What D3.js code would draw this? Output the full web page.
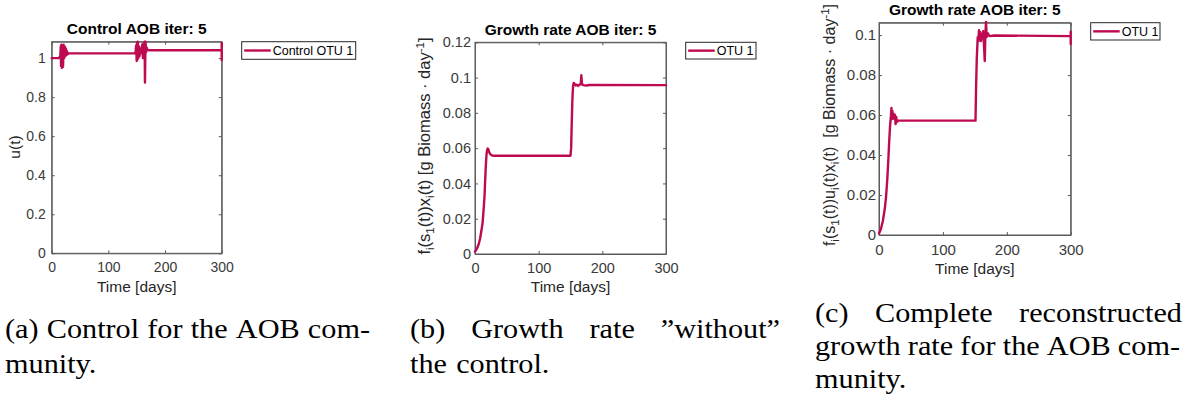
<!DOCTYPE html>
<html>
<head>
<meta charset="utf-8">
<script src="https://cdn.jsdelivr.net/npm/d3@7"></script>
<style>
  body { margin: 0; background: #fff; }
  svg { display: block; }
  .ylab { white-space: pre; }
</style>
</head>
<body>
<svg id="fig" width="1194" height="401"></svg>
<script>
// ---- data -------------------------------------------------------------
// (a) control signal u(t) for OTU 1
const controlTime = [0, 12, 14, 15, 16, 16.5, 17, 18, 19, 20, 21, 22, 23, 24, 25, 26, 27, 28, 30,
  147, 148, 149, 150, 150.5, 151, 152, 153, 154, 155, 156, 157, 158, 160, 161, 162, 163, 164, 164.6, 165.5, 166.5, 167.5, 169, 172, 300, 300, 300, 300];
const controlU = [1.0, 1.0, 1.004, 1.0, 1.06, 0.96, 1.068, 0.95, 1.065, 0.955, 1.068, 1.0, 1.06, 1.01, 1.05, 1.015, 1.035, 1.02, 1.024,
  1.024, 1.03, 1.065, 0.985, 1.08, 0.99, 1.084, 1.0, 1.06, 1.01, 1.05, 1.025, 1.04, 1.07, 1.0, 1.075, 1.02, 1.084, 0.875, 1.084, 1.03, 1.055, 1.042, 1.04, 1.04, 1.077, 0.99, 1.04];

// (b) growth rate without the control
const growthTime = [0, 3, 6, 8, 10, 12, 13.5, 15, 16, 17, 18, 19, 20, 21, 22, 24, 27, 30,
  150, 151, 152, 153, 154, 155, 156.5, 158, 160, 162, 164, 166, 167, 168, 170, 175, 180, 300];
const growthRate = [0.0013, 0.003, 0.0058, 0.0088, 0.013, 0.018, 0.025, 0.033, 0.042, 0.05, 0.056, 0.059, 0.0598, 0.0594, 0.058, 0.0565, 0.0558, 0.0557,
  0.0557, 0.06, 0.075, 0.088, 0.095, 0.097, 0.0965, 0.0955, 0.096, 0.0953, 0.096, 0.096, 0.1013, 0.0965, 0.0957, 0.0955, 0.0958, 0.0957];

// (c) complete reconstructed growth rate
const recTime = [0, 3, 6, 9, 11, 13, 14.6, 16, 17.2, 18.5, 19.5, 20.2, 21, 22, 23, 24, 25, 26, 27, 28, 30,
  151, 152, 153, 154.5, 155.5, 156.5, 157.5, 158.5, 159.5, 161, 162, 163, 164, 165.5, 166.5, 167.5, 168.5, 170, 173, 180, 300, 300, 300, 300];
const recRate = [0.0008, 0.003, 0.007, 0.013, 0.019, 0.028, 0.0375, 0.047, 0.054, 0.059, 0.0635, 0.058, 0.062, 0.0585, 0.0605, 0.058, 0.06, 0.0555, 0.059, 0.0565, 0.0572,
  0.0572, 0.075, 0.088, 0.099, 0.097, 0.1025, 0.098, 0.1015, 0.097, 0.1005, 0.0985, 0.102, 0.097, 0.087, 0.1005, 0.1066, 0.099, 0.101, 0.0995, 0.0998, 0.0995, 0.1017, 0.0955, 0.0995];

// ticks
const xTicks = [0, 100, 200, 300];
const xTickLabels = ["0", "100", "200", "300"];
const yTicksA = [0, 0.2, 0.4, 0.6, 0.8, 1];
const yTickLabelsA = ["0", "0.2", "0.4", "0.6", "0.8", "1"];
const yTicksB = [0, 0.02, 0.04, 0.06, 0.08, 0.1, 0.12];
const yTickLabelsB = ["0", "0.02", "0.04", "0.06", "0.08", "0.1", "0.12"];
const yTicksC = [0, 0.02, 0.04, 0.06, 0.08, 0.1];
const yTickLabelsC = ["0", "0.02", "0.04", "0.06", "0.08", "0.1"];

// ---- drawing ----------------------------------------------------------
const svg = d3.select("#fig");
const LINE = "#be0a50";
const AXIS = "#5a5a5a";
const TICKTXT = "#3a3a3a";
const SANS = "'Liberation Sans', Arial, sans-serif";
const SERIF = "'Liberation Serif', 'Times New Roman', serif";

function drawPanel(p) {
  const g = svg.append("g");
  const x = d3.scaleLinear().domain([0, 300]).range([p.left, p.right]);
  const y = d3.scaleLinear().domain([0, p.ymax]).range([p.bottom, p.top]);
  const fmtX = (d, i) => xTickLabels[i];
  const fmtY = (d, i) => p.yLabels[i];

  const styleAxis = sel => {
    sel.select(".domain").attr("stroke", AXIS).attr("stroke-width", 1);
    sel.selectAll(".tick line").attr("stroke", AXIS).attr("stroke-width", 1);
    sel.selectAll(".tick text").attr("fill", TICKTXT)
      .style("font-family", SANS).style("font-size", p.tickFont + "px");
  };

  g.append("g").attr("transform", `translate(0,${p.bottom})`)
    .call(d3.axisBottom(x).tickValues(xTicks).tickFormat(fmtX).tickSizeInner(-3).tickSizeOuter(0).tickPadding(p.xPad))
    .call(styleAxis);
  g.append("g").attr("transform", `translate(0,${p.top})`)
    .call(d3.axisTop(x).tickValues(xTicks).tickFormat("").tickSizeInner(-3).tickSizeOuter(0))
    .call(styleAxis);
  g.append("g").attr("transform", `translate(${p.left},0)`)
    .call(d3.axisLeft(y).tickValues(p.yTicks).tickFormat(fmtY).tickSizeInner(-3).tickSizeOuter(0).tickPadding(p.yPad))
    .call(styleAxis);
  g.append("g").attr("transform", `translate(${p.right},0)`)
    .call(d3.axisRight(y).tickValues(p.yTicks).tickFormat("").tickSizeInner(-3).tickSizeOuter(0))
    .call(styleAxis);
  // close the box at the top / right ends
  g.append("rect").attr("x", p.left).attr("y", p.top)
    .attr("width", p.right - p.left).attr("height", p.bottom - p.top)
    .attr("fill", "none").attr("stroke", AXIS).attr("stroke-width", 1);

  // data line
  const line = d3.line().x(d => x(d[0])).y(d => y(d[1]));
  g.append("path").datum(d3.zip(p.t, p.v))
    .attr("d", line).attr("fill", "none").attr("stroke", LINE)
    .attr("stroke-width", 2.4).attr("stroke-linejoin", "round").attr("stroke-linecap", "round");

  // title
  g.append("text").attr("x", (p.left + p.right) / 2).attr("y", p.titleY)
    .attr("text-anchor", "middle").style("font-family", SANS).style("font-weight", "bold")
    .style("font-size", "15.5px").attr("fill", "#000").text(p.title);

  // x label
  g.append("text").attr("x", (p.left + p.right) / 2).attr("y", p.xLabelY)
    .attr("text-anchor", "middle").style("font-family", SANS).style("font-size", "15.5px")
    .attr("fill", "#262626").text("Time [days]");

  // y label (rotated, with sub/superscripts)
  const yl = g.append("text").attr("class", "ylab")
    .attr("transform", `translate(${p.yLabelX},${p.yLabelY}) rotate(-90)`)
    .attr("text-anchor", "middle").style("font-family", SANS).style("font-size", p.yLabelFont + "px")
    .attr("fill", "#262626");
  let shift = 0;
  p.yLabelParts.forEach(([txt, kind]) => {
    const target = kind === "sub" ? 4 : kind === "sup" ? -6 : 0;
    const ts = yl.append("tspan").attr("dy", target - shift).text(txt);
    if (kind) ts.style("font-size", "11.5px");
    shift = target;
  });

  // legend
  const lg = g.append("g");
  lg.append("rect").attr("x", p.leg.x).attr("y", p.leg.y).attr("width", p.leg.w).attr("height", p.leg.h)
    .attr("fill", "#fff").attr("stroke", "#262626").attr("stroke-width", 1);
  const ly = p.leg.y + p.leg.h / 2;
  lg.append("line").attr("x1", p.leg.x + 2.5).attr("x2", p.leg.x + 29).attr("y1", ly).attr("y2", ly)
    .attr("stroke", LINE).attr("stroke-width", 2.4);
  lg.append("text").attr("x", p.leg.x + 31).attr("y", ly + 4.5)
    .style("font-family", SANS).style("font-size", "12.5px").attr("fill", "#000").text(p.legend);
}

drawPanel({
  left: 51.7, right: 221.7, top: 41.7, bottom: 253.3, ymax: 1.084,
  yTicks: yTicksA, yLabels: yTickLabelsA, tickFont: 14, xPad: 9, yPad: 6,
  t: controlTime, v: controlU,
  title: "Control AOB iter: 5", titleY: 34,
  xLabelY: 292, yLabelX: 20, yLabelY: 147, yLabelFont: 15.5,
  yLabelParts: [["u(t)"]],
  leg: { x: 241.7, y: 41.7, w: 114, h: 17.6 }, legend: "Control OTU 1"
});

drawPanel({
  left: 475, right: 666, top: 42.3, bottom: 254, ymax: 0.12,
  yTicks: yTicksB, yLabels: yTickLabelsB, tickFont: 14.5, xPad: 9, yPad: 4,
  t: growthTime, v: growthRate,
  title: "Growth rate AOB iter: 5", titleY: 34.5,
  xLabelY: 292, yLabelX: 430, yLabelY: 146, yLabelFont: 16.5,
  yLabelParts: [["f"], ["i", "sub"], ["(s"], ["1", "sub"], ["(t))x"], ["i", "sub"], ["(t) [g Biomass \u00B7 day"], ["-1", "sup"], ["]"]],
  leg: { x: 685.7, y: 42.3, w: 70.3, h: 16.7 }, legend: "OTU 1"
});

drawPanel({
  left: 879, right: 1070.7, top: 22.7, bottom: 235, ymax: 0.1062,
  yTicks: yTicksC, yLabels: yTickLabelsC, tickFont: 15, xPad: 9, yPad: 3,
  t: recTime, v: recRate,
  title: "Growth rate AOB iter: 5", titleY: 14.5,
  xLabelY: 274, yLabelX: 835, yLabelY: 125, yLabelFont: 16,
  yLabelParts: [["f"], ["i", "sub"], ["(s"], ["1", "sub"], ["(t))u"], ["i", "sub"], ["(t)x"], ["i", "sub"], ["(t)  [g Biomass \u00B7 day"], ["-1", "sup"], ["]"]],
  leg: { x: 1090.7, y: 22.7, w: 69.3, h: 17.3 }, legend: "OTU 1"
});

// ---- sub-figure captions (justified serif lines) -----------------------
const CAP_SIZE = 28;
const STRETCH = 1.08;
function captionLine(words, x0, x1, baseline, justify) {
  const items = words.map(w => {
    const t = svg.append("text").attr("y", baseline)
      .style("font-family", SERIF).style("font-size", CAP_SIZE + "px").attr("fill", "#000").text(w);
    const nat = t.node().getComputedTextLength();
    const wid = nat * STRETCH;
    t.attr("textLength", wid).attr("lengthAdjust", "spacingAndGlyphs");
    return { t, wid };
  });
  const total = d3.sum(items, d => d.wid);
  const gap = justify && items.length > 1 ? (x1 - x0 - total) / (items.length - 1) : CAP_SIZE * 0.33;
  let cx = x0;
  items.forEach(d => { d.t.attr("x", cx); cx += d.wid + gap; });
}

captionLine(["(a)", "Control", "for", "the", "AOB", "com-"], 5, 370, 338, true);
captionLine(["munity."], 5, 370, 373, false);

captionLine(["(b)", "Growth", "rate", "\u201Dwithout\u201D"], 410, 780, 338, true);
captionLine(["the", "control."], 410, 780, 373, false);

captionLine(["(c)", "Complete", "reconstructed"], 815, 1182, 322, true);
captionLine(["growth", "rate", "for", "the", "AOB", "com-"], 815, 1180, 355, true);
captionLine(["munity."], 815, 1182, 388, false);
</script>
</body>
</html>
